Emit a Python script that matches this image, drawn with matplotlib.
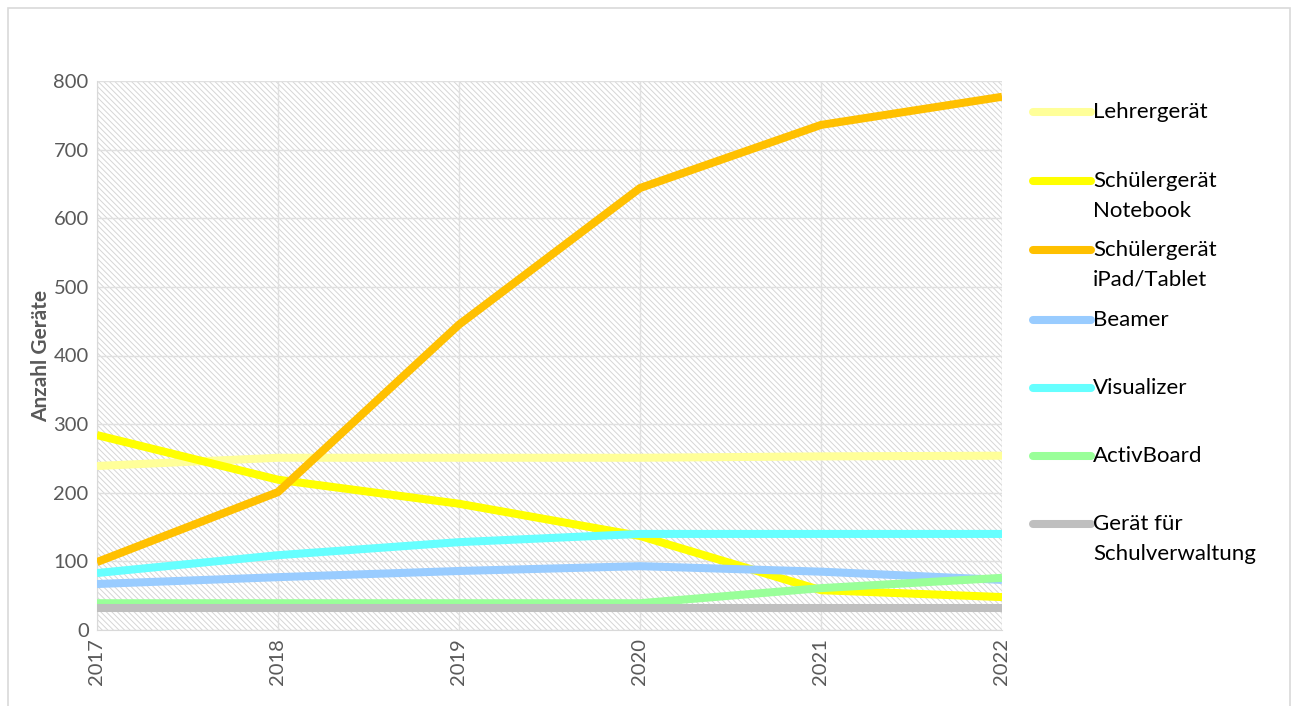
import matplotlib
matplotlib.use('Agg')
import matplotlib.pyplot as plt
from matplotlib.lines import Line2D
from matplotlib.patches import Rectangle

# ---- Daten ----
jahre = [2017, 2018, 2019, 2020, 2021, 2022]
lehrer = [239, 251, 251, 251, 253, 254]
notebook = [284, 219, 184, 137, 58, 48]
ipad = [99, 201, 445, 644, 736, 777]
beamer = [67, 77, 86, 93, 85, 73]
visualizer = [83, 109, 128, 140, 140, 140]
activboard = [39, 39, 39, 39, 61, 76]
verwaltung = [32, 32, 32, 32, 32, 32]

serien = [
    ("Lehrergerät", lehrer, '#FFFF99'),
    ("Schülergerät\nNotebook", notebook, '#FFFF00'),
    ("Schülergerät\niPad/Tablet", ipad, '#FFC000'),
    ("Beamer", beamer, '#99CCFF'),
    ("Visualizer", visualizer, '#66FFFF'),
    ("ActivBoard", activboard, '#99FF99'),
    ("Gerät für\nSchulverwaltung", verwaltung, '#BFBFBF'),
]

plt.rcParams['font.family'] = ['Lato', 'DejaVu Sans']
plt.rcParams['hatch.color'] = '#D6D6D6'
plt.rcParams['hatch.linewidth'] = 0.7

W, H = 1292, 706
fig = plt.figure(figsize=(W / 100, H / 100), dpi=100)
ax = fig.add_axes([97 / W, 1 - 630 / H, (1002 - 97) / W, (630 - 81) / H])

# Rahmen um das Diagramm
fig.add_artist(Rectangle((8 / W, -0.01), (1290 - 8) / W, 1 - 8 / H + 0.01,
                         transform=fig.transFigure, fill=False,
                         edgecolor='#D9D9D9', linewidth=1.2))

# Schraffierter Hintergrund
ax.add_patch(Rectangle((0, 0), 1, 1, transform=ax.transAxes, facecolor='white',
                       hatch='\\' * 6, edgecolor='#D6D6D6', linewidth=0, zorder=0))

for label, werte, farbe in serien:
    ax.plot(jahre, werte, color=farbe, linewidth=5.8, solid_capstyle='butt', zorder=3)

ax.set_xlim(2017, 2022)
ax.set_ylim(0, 800)
ax.set_xticks(jahre)
ax.set_xticklabels([str(j) for j in jahre], rotation=90)
ax.set_yticks(range(0, 801, 100))
ax.grid(True, color='#E0E0E0', linewidth=1.0, zorder=1)
ax.set_axisbelow(True)
for s in ['top', 'right']:
    ax.spines[s].set_visible(False)
ax.spines['left'].set_color('#D9D9D9')
ax.spines['bottom'].set_color('#D9D9D9')
ax.tick_params(axis='both', length=0, labelsize=14.5, colors='#595959', pad=6)
ax.set_ylabel("Anzahl Geräte", fontsize=15, fontweight='bold', color='#595959', labelpad=2)

# ---- Legende ----
leg_y = [112, 181, 250, 320, 388, 456, 524]
for (label, werte, farbe), yp in zip(serien, leg_y):
    yf = 1 - yp / H
    fig.add_artist(Line2D([1033 / W, 1091 / W], [yf, yf], transform=fig.transFigure,
                          color=farbe, linewidth=5.8, solid_capstyle='round'))
    for i, zeile in enumerate(label.split('\n')):
        fig.text(1093 / W, 1 - (yp + i * 30) / H, zeile, fontsize=16, color='black',
                 ha='left', va='center')

fig.savefig('out.png', dpi=100)
